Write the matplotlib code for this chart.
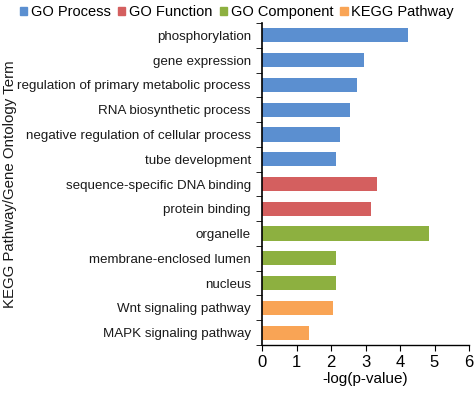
import matplotlib
matplotlib.use('Agg')
import matplotlib.pyplot as plt
from matplotlib.patches import Patch

plt.rcParams['font.family'] = ['Liberation Sans', 'DejaVu Sans']

# terms, top to bottom
terms = ['phosphorylation', 'gene expression', 'regulation of primary metabolic process',
         'RNA biosynthetic process', 'negative regulation of cellular process',
         'tube development', 'sequence-specific DNA binding', 'protein binding',
         'organelle', 'membrane-enclosed lumen', 'nucleus',
         'Wnt signaling pathway', 'MAPK signaling pathway']
values = [4.24, 2.97, 2.74, 2.56, 2.25, 2.14, 3.34, 3.17, 4.84, 2.15, 2.15, 2.07, 1.36]
groups = ['GO Process'] * 6 + ['GO Function'] * 2 + ['GO Component'] * 3 + ['KEGG Pathway'] * 2

group_names = ['GO Process', 'GO Function', 'GO Component', 'KEGG Pathway']
group_colors = {'GO Process': '#5B8FD0', 'GO Function': '#D45F5F',
                'GO Component': '#8DB040', 'KEGG Pathway': '#F9A455'}

fig = plt.figure(figsize=(4.74, 3.93), dpi=100)
ax = fig.add_axes([262/474, 48/393, 207/474, 322/393])

n = len(terms)
ypos = [n - 1 - i for i in range(n)]
ax.barh(ypos, values, height=0.57, color=[group_colors[g] for g in groups])

ax.set_ylim(-0.5, n - 0.5)
ax.set_xlim(0, 6)
ax.set_xticks(range(7))
ax.tick_params(axis='x', labelsize=12, length=4, direction='out', pad=3)
ax.set_yticks(ypos)
ax.set_yticklabels(terms, fontsize=9.6, color='#1a1a1a')
ax.tick_params(axis='y', length=0, pad=8)
# ticks between categories
ax.set_yticks([i - 0.5 for i in range(n + 1)], minor=True)
ax.tick_params(axis='y', which='minor', length=4, direction='out')

for s in ['top', 'right']:
    ax.spines[s].set_visible(False)
ax.spines['left'].set_linewidth(1.2)
ax.spines['bottom'].set_linewidth(1.0)

ax.set_xlabel('-log(p-value)', fontsize=11, labelpad=2)
fig.text(10/474, 1 - 184/393, 'KEGG Pathway/Gene Ontology Term', rotation=90,
         fontsize=10.8, ha='center', va='center', color='#1a1a1a')

handles = [Patch(color=group_colors[g]) for g in group_names]
fig.legend(handles, group_names, loc='center', bbox_to_anchor=(0.5, 1 - 12/393),
           ncol=4, frameon=False, fontsize=10.5, handlelength=0.5, handleheight=0.5,
           handletextpad=0.25, columnspacing=0.5, borderpad=0)

fig.savefig('out.png', dpi=100)
